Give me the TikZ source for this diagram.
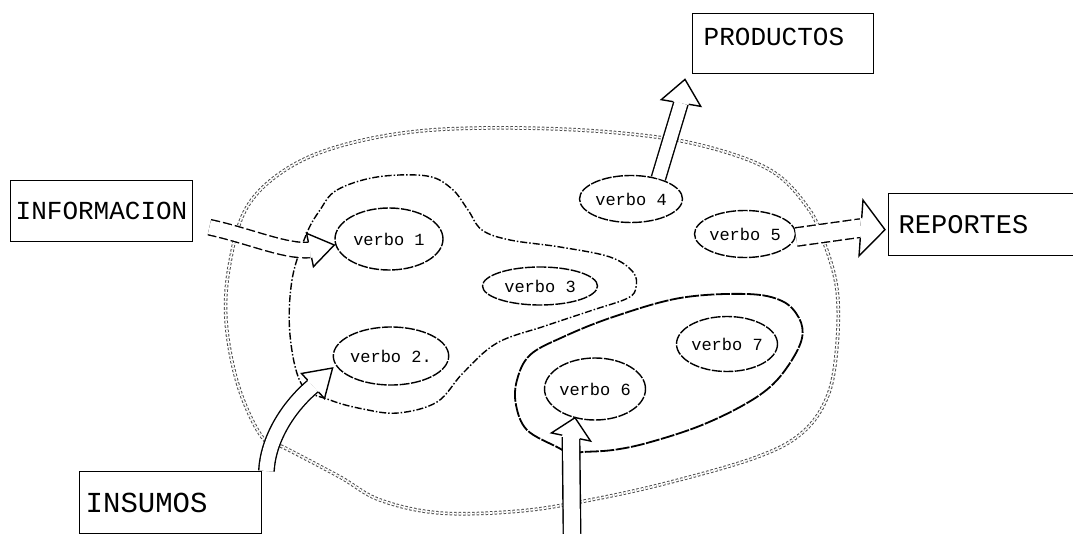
\documentclass[tikz,border=0pt]{standalone}
\usepackage{fontspec}
\usetikzlibrary{calc,shapes.geometric}
\newfontfamily\typefont{Liberation Mono}

% open arrowhead: #1 base, #2 tip, #3 half shaft width, #4 half head width
\newcommand{\hollowhead}[4]{%
  \draw[headline]
    ($(#1)!#3!90:(#2)$) -- ($(#1)!#4!90:(#2)$) -- (#2)
    -- ($(#1)!#4!-90:(#2)$) -- ($(#1)!#3!-90:(#2)$);
}

\begin{document}
\begin{tikzpicture}[x=1pt,y=-1pt,
  bx/.style={draw, line width=1.4pt, rectangle, inner ysep=0pt, align=left,
    anchor=north west},
  boxfont/.style={font=\typefont\fontsize{#1}{#1}\selectfont},
  verb/.style={draw, ellipse, line width=1.4pt, dash pattern=on 10pt off 1.5pt,
    inner sep=0pt, font=\typefont\fontsize{17}{17}\selectfont},
  outerline/.style={draw=black!70, line width=1pt, double=white,
    double distance=1.6pt, dash pattern=on 2.5pt off 2pt},
  innerdash/.style={draw, line width=1.4pt,
    dash pattern=on 7pt off 2pt on 1.5pt off 2pt},
  innersolid/.style={draw, line width=1.8pt, dash pattern=on 14pt off 1.5pt},
  shaft/.style={draw, line width=1.4pt, double=white, double distance=#1},
  dshaft/.style={preaction={draw, white, line width=#1+2.8pt},
    preaction={draw, black, line width=#1+2.8pt, dash pattern=on 9pt off 3pt},
    draw=white, line width=#1},
  headline/.style={draw, line width=1.4pt, fill=white, line join=miter},
]
\useasboundingbox (0,0) rectangle (1073,534);
\fill[white] (0,0) rectangle (1073,534);

% outer boundary of the system
\draw[outerline] plot[smooth cycle, tension=0.6] coordinates {
  (262,437) (238,385) (226,320) (230,262) (247,207) (285,170) (340,146)
  (420,131) (520,128) (620,133) (700,145) (770,170) (808,208) (825,245)
  (837,290) (837,345) (828,395) (803,432) (757,457) (667,483) (590,500)
  (520,511) (440,513) (380,500) (340,477) (285,448)};

% left subsystem
\draw[innerdash] plot[smooth cycle, tension=0.6] coordinates {
  (320,210) (337,190) (377,177) (427,176) (452,189) (468,210) (482,230)
  (510,240) (560,247) (610,257) (633,272) (636,287) (628,298) (593,310)
  (545,326) (497,343) (463,373) (437,402) (398,413) (363,409) (330,400)
  (302,385) (290,335) (292,280) (306,235)};

% lower right subsystem
\draw[innersolid] plot[smooth cycle, tension=0.6] coordinates {
  (557,447) (527,430) (516,405) (517,380) (530,355) (563,337) (613,317)
  (680,298) (747,294) (782,301) (799,318) (802,338) (790,363) (770,387)
  (740,407) (697,427) (647,443) (613,450) (583,452) (570,453)};

% boxes
\node[bx, boxfont=26, minimum height=61, inner xsep=5, text width=172] (info)
  at (10,180) {INFORMACION};
\node[bx, boxfont=26, minimum height=60, inner xsep=11, text width=159,
  text height=15, text depth=12] (prod) at (692,13) {PRODUCTOS};
\node[bx, boxfont=27, minimum height=62, inner xsep=10, text width=175] (rep)
  at (888,193) {REPORTES};
\node[bx, boxfont=29, minimum height=62, inner xsep=6, text width=170] (ins)
  at (79,471) {INSUMOS};

% activities
\node[verb, minimum width=108, minimum height=62] (v1) at (389,239) {verbo 1};
\node[verb, minimum width=112, minimum height=58] (v2) at (391,356) {verbo 2.};
\node[verb, minimum width=115, minimum height=38] (v3) at (540,286) {verbo 3};
\node[verb, minimum width=103, minimum height=47] (v4) at (631,199) {verbo 4};
\node[verb, minimum width=96, minimum height=47] (v5) at (745,234) {verbo 5};
\node[verb, minimum width=95, minimum height=62] (v6) at (595,389) {verbo 6};
\node[verb, minimum width=100, minimum height=55] (v7) at (727,344) {verbo 7};

% INFORMACION -> verbo 1
\coordinate (infoOut) at ($(info.east)+(16,16)$);
\coordinate (infoBase) at (310,250);
\coordinate (infoTip) at ($(v1.west)+(0,6)$);
\draw[dshaft=14pt] (infoOut)
  .. controls (250,236) and (285,252) .. (infoBase);
\hollowhead{infoBase}{infoTip}{8pt}{17pt}

% verbo 4 -> PRODUCTOS
\coordinate (prodBase) at (681,103);
\coordinate (prodTip) at ($(prod.south west)+(-7,5)$);
\draw[shaft=13pt] (v4.37) -- (prodBase);
\hollowhead{prodBase}{prodTip}{7.8pt}{20pt}

% verbo 5 -> REPORTES
\coordinate (repBase) at (861,228);
\coordinate (repTip) at ($(rep.west)+(-3,5)$);
\draw[dshaft=17pt] ($(v5.east)+(0,3)$) -- (repBase);
\hollowhead{repBase}{repTip}{9.8pt}{28pt}

% INSUMOS -> verbo 2
\coordinate (insOut) at ($(ins.north east)+(4,0)$);
\coordinate (insBase) at (313,386);
\coordinate (insTip) at ($(v2.west)+(0,12)$);
\draw[shaft=14pt] (insOut) .. controls (268,440) and (287,408) .. (insBase);
\hollowhead{insBase}{insTip}{8pt}{17pt}

% incoming flow -> verbo 6
\coordinate (feed) at (572,534);
\coordinate (feedBase) at (571,437);
\coordinate (feedTip) at ($(v6.south)+(-20,-3)$);
\draw[shaft=16pt] (feed) -- (feedBase);
\hollowhead{feedBase}{feedTip}{9pt}{20pt}
\end{tikzpicture}
\end{document}
